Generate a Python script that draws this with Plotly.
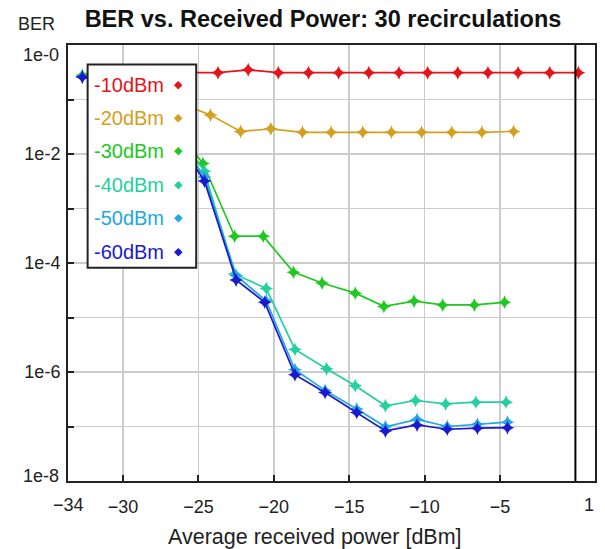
import plotly.graph_objects as go

# ---------------- data ----------------
series_names = ["-10dBm", "-20dBm", "-30dBm", "-40dBm", "-50dBm", "-60dBm"]

x_m10 = [-31.7, -29.7, -27.7, -25.7, -23.7, -21.7, -19.7, -17.7, -15.7, -13.7, -11.7, -9.8, -7.8, -5.8, -3.8, -1.7, 0.2]
y_m10 = [0.30, 0.31, 0.31, 0.31, 0.31, 0.35, 0.31, 0.31, 0.31, 0.31, 0.31, 0.31, 0.31, 0.31, 0.31, 0.31, 0.31]

x_m20 = [-32.2, -30.2, -28.2, -26.2, -24.2, -22.2, -20.2, -18.1, -16.2, -14.1, -12.2, -10.2, -8.2, -6.2, -4.1]
y_m20 = [0.29, 0.25, 0.16, 0.085, 0.052, 0.026, 0.029, 0.025, 0.025, 0.025, 0.025, 0.025, 0.025, 0.025, 0.026]

x_m30 = [-32.7, -30.7, -28.7, -26.7, -24.7, -22.6, -20.7, -18.7, -16.8, -14.6, -12.7, -10.7, -8.8, -6.7, -4.7]
y_m30 = [0.28, 0.20, 0.11, 0.033, 6.7e-3, 3.1e-4, 3.1e-4, 6.8e-5, 4.3e-5, 2.8e-5, 1.6e-5, 2.0e-5, 1.7e-5, 1.7e-5, 1.9e-5]

x_m40 = [-32.7, -30.7, -28.6, -26.6, -24.6, -22.6, -20.5, -18.6, -16.5, -14.6, -12.6, -10.6, -8.6, -6.6, -4.6]
y_m40 = [0.27, 0.19, 0.10, 0.028, 4.8e-3, 6.3e-5, 3.4e-5, 2.6e-6, 1.15e-6, 5.6e-7, 2.4e-7, 3.0e-7, 2.6e-7, 2.8e-7, 2.8e-7]

x_m50 = [-32.7, -30.6, -28.6, -26.6, -24.6, -22.5, -20.5, -18.6, -16.6, -14.5, -12.6, -10.5, -8.5, -6.5, -4.5]
y_m50 = [0.26, 0.19, 0.10, 0.024, 3.8e-3, 5.9e-5, 2.0e-5, 1.1e-6, 4.6e-7, 2.1e-7, 9.9e-8, 1.35e-7, 1.0e-7, 1.1e-7, 1.2e-7]

x_m60 = [-32.7, -30.6, -28.6, -26.6, -24.6, -22.5, -20.6, -18.6, -16.6, -14.5, -12.6, -10.5, -8.5, -6.5, -4.5]
y_m60 = [0.26, 0.19, 0.10, 0.022, 3.2e-3, 4.9e-5, 1.9e-5, 8.9e-7, 4.2e-7, 1.8e-7, 8.3e-8, 1.07e-7, 8.9e-8, 9.3e-8, 9.5e-8]

x_tick_vals = [-30, -25, -20, -15, -10, -5]
x_tick_text = ["\u221230", "\u221225", "\u221220", "\u221215", "\u221210", "\u22125"]
x_end_labels = ["\u221234", "1"]
y_tick_vals = [1e0, 1e-1, 1e-2, 1e-3, 1e-4, 1e-5, 1e-6, 1e-7, 1e-8]
y_tick_text = ["", "", "1e-2", "", "1e-4", "", "1e-6", "", ""]
y_end_labels = ["1e-0", "1e-8"]
marker_line_x = 0

# ---------------- styling ----------------
colors = ["#e41418", "#d4a020", "#22c822", "#24d0a0", "#22a8e0", "#1a1ad0"]
FONT = "Liberation Sans, Arial, sans-serif"

xs = [x_m10, x_m20, x_m30, x_m40, x_m50, x_m60]
ys = [y_m10, y_m20, y_m30, y_m40, y_m50, y_m60]

fig = go.Figure()
for name, x, y, c in zip(series_names, xs, ys, colors):
    fig.add_trace(go.Scatter(
        x=x, y=y, name=name, mode="lines+markers",
        line=dict(color=c, width=1.7),
        marker=dict(symbol="star-diamond", size=10, color=c, line=dict(width=0)),
        showlegend=False,
    ))

# plot area in pixels: left 68, right 597, top 45.4, bottom 481
W, H = 605, 549
L, R, T, B = 68, 597, 45.4, 481
pw, ph = R - L, B - T

def px(xp):
    return (xp - L) / pw

def py(yp):
    return (B - yp) / ph

shapes = [
    dict(type="line", xref="x", yref="paper", x0=marker_line_x, x1=marker_line_x, y0=0, y1=1,
         line=dict(color="black", width=2), layer="above"),
    dict(type="rect", xref="paper", yref="paper", x0=px(87.7), x1=px(196.7), y0=py(268), y1=py(65),
         fillcolor="white", line=dict(color="#222222", width=2), layer="above"),
]

annotations = []
legend_y = [85, 118, 151, 185, 218, 252]
for name, c, ly in zip(series_names, colors, legend_y):
    annotations.append(dict(xref="paper", yref="paper", x=px(92.5), y=py(ly), xanchor="left",
                            yanchor="middle", text=name, showarrow=False,
                            font=dict(family=FONT, size=20, color=c)))
    annotations.append(dict(xref="paper", yref="paper", x=px(179.3), y=py(ly), xanchor="center",
                            yanchor="middle", text="\u25c6", showarrow=False,
                            font=dict(family="DejaVu Sans", size=11, color=c)))

annotations.append(dict(xref="paper", yref="paper", x=px(36), y=py(24), xanchor="center",
                        yanchor="middle", text="BER", showarrow=False,
                        font=dict(family=FONT, size=18, color="#222222")))
annotations.append(dict(xref="paper", yref="paper", x=px(315.5), y=py(537), xanchor="center",
                        yanchor="middle", text="Average received power [dBm]", showarrow=False,
                        font=dict(family=FONT, size=21.5, color="#222222")))
annotations.append(dict(xref="paper", yref="paper", x=px(69), y=py(505), xanchor="center",
                        yanchor="middle", text=x_end_labels[0], showarrow=False,
                        font=dict(family=FONT, size=18, color="#222222")))
annotations.append(dict(xref="paper", yref="paper", x=px(591), y=py(505), xanchor="center",
                        yanchor="middle", text=x_end_labels[1], showarrow=False,
                        font=dict(family=FONT, size=18, color="#222222")))
annotations.append(dict(xref="paper", yref="paper", x=px(61), y=py(55), xanchor="right",
                        yanchor="middle", text=y_end_labels[0], showarrow=False,
                        font=dict(family=FONT, size=18, color="#222222")))
annotations.append(dict(xref="paper", yref="paper", x=px(61), y=py(476), xanchor="right",
                        yanchor="middle", text=y_end_labels[1], showarrow=False,
                        font=dict(family=FONT, size=18, color="#222222")))

fig.update_layout(
    width=W, height=H,
    margin=dict(l=L, r=W - R, t=T, b=H - B),
    paper_bgcolor="white", plot_bgcolor="white",
    title=dict(text="<b>BER vs. Received Power: 30 recirculations</b>", xref="container", yref="container",
               x=323 / W, xanchor="center", y=1 - 19 / H, yanchor="middle",
               font=dict(family=FONT, size=23.5, color="#111111")),
    shapes=shapes, annotations=annotations,
    showlegend=False,
)
fig.update_xaxes(
    range=[-33.65, 1.3], tickmode="array", tickvals=x_tick_vals, ticktext=x_tick_text,
    showgrid=True, gridcolor="#cccccc", gridwidth=1.5,
    showline=True, linecolor="#222222", linewidth=2, mirror=True,
    ticks="inside", ticklen=6, tickwidth=2, tickcolor="#222222",
    tickfont=dict(family=FONT, size=18, color="#222222"), ticklabelstandoff=8,
    zeroline=False, fixedrange=True,
)
fig.update_yaxes(
    type="log", range=[-8, 0], tickmode="array", tickvals=y_tick_vals, ticktext=y_tick_text,
    showgrid=True, gridcolor="#cccccc", gridwidth=1.5,
    showline=True, linecolor="#222222", linewidth=2, mirror=True,
    ticks="inside", ticklen=6, tickwidth=2, tickcolor="#222222",
    tickfont=dict(family=FONT, size=18, color="#222222"), ticklabelstandoff=2,
    zeroline=False, fixedrange=True,
)

fig.write_html("out.html", config={"displayModeBar": False, "staticPlot": True},
               post_script="document.body.style.margin='0';document.body.style.overflow='hidden';")
